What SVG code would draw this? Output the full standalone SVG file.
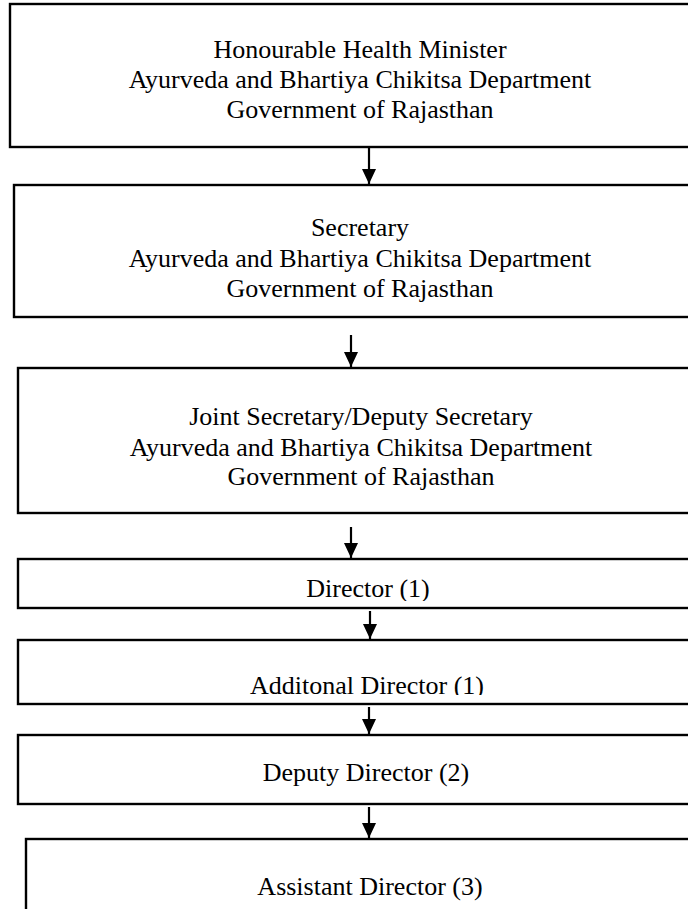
<svg xmlns="http://www.w3.org/2000/svg" width="688" height="909" viewBox="0 0 688 909">
<style>
.box{fill:#fff;stroke:#000;stroke-width:2.4}
.t{font-family:"Liberation Serif","Times New Roman",serif;font-size:26px;fill:#000;text-anchor:middle}
.c{stroke:#000;stroke-width:2.2;fill:none}
</style>
<defs>
<marker id="ah" markerUnits="userSpaceOnUse" markerWidth="16" markerHeight="16" refX="15" refY="7" orient="auto">
<path d="M0,0 L15,7 L0,14 z" fill="#000"/>
</marker>
<clipPath id="clipDir"><rect x="0" y="558" width="688" height="43"/></clipPath>
<clipPath id="clipAdd"><rect x="0" y="639" width="688" height="56"/></clipPath>
</defs>
<rect width="688" height="909" fill="#fff"/>
<g id="minister">
<rect class="box" x="10" y="4" width="700" height="143"/>
<text class="t" x="360" y="58">Honourable Health Minister</text>
<text class="t" x="360" y="88">Ayurveda and Bhartiya Chikitsa Department</text>
<text class="t" x="360" y="118">Government of Rajasthan</text>
</g>
<g id="secretary">
<rect class="box" x="14" y="185" width="700" height="132"/>
<text class="t" x="360" y="236">Secretary</text>
<text class="t" x="360" y="267">Ayurveda and Bhartiya Chikitsa Department</text>
<text class="t" x="360" y="297">Government of Rajasthan</text>
</g>
<g id="joint-secretary">
<rect class="box" x="18" y="368" width="700" height="145"/>
<text class="t" x="361" y="425">Joint Secretary/Deputy Secretary</text>
<text class="t" x="361" y="456">Ayurveda and Bhartiya Chikitsa Department</text>
<text class="t" x="361" y="485">Government of Rajasthan</text>
</g>
<g id="director">
<rect class="box" x="18" y="559" width="700" height="49"/>
<text class="t" x="368" y="597" clip-path="url(#clipDir)">Director (1)</text>
</g>
<g id="additional-director">
<rect class="box" x="18" y="640" width="700" height="64"/>
<text class="t" x="367" y="694" clip-path="url(#clipAdd)">Additonal Director (1)</text>
</g>
<g id="deputy-director">
<rect class="box" x="18" y="735" width="700" height="69"/>
<text class="t" x="366" y="781">Deputy Director (2)</text>
</g>
<g id="assistant-director">
<rect class="box" x="26" y="839" width="700" height="100"/>
<text class="t" x="370" y="895">Assistant Director (3)</text>
</g>
<g id="connectors">
<line class="c" x1="369" y1="148" x2="369" y2="184" marker-end="url(#ah)"/>
<line class="c" x1="351" y1="335" x2="351" y2="367" marker-end="url(#ah)"/>
<line class="c" x1="351" y1="527" x2="351" y2="558" marker-end="url(#ah)"/>
<line class="c" x1="370" y1="611" x2="370" y2="639" marker-end="url(#ah)"/>
<line class="c" x1="369" y1="707" x2="369" y2="734" marker-end="url(#ah)"/>
<line class="c" x1="369" y1="807" x2="369" y2="838" marker-end="url(#ah)"/>
</g>
</svg>
